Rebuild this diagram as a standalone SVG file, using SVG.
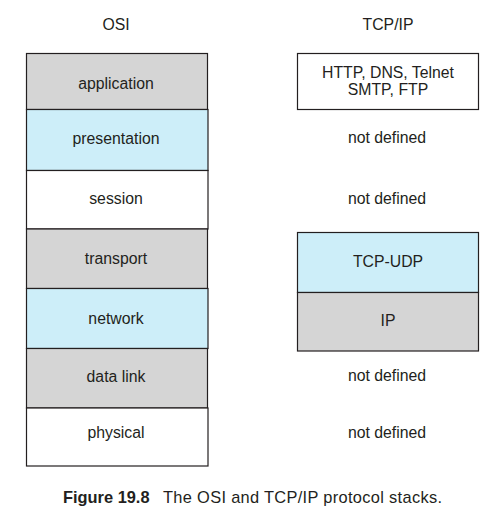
<svg xmlns="http://www.w3.org/2000/svg" width="495" height="529" viewBox="0 0 495 529">
<style>
text{font-family:"Liberation Sans",Arial,sans-serif;font-size:15.8px;fill:#231f20;text-anchor:middle}
.box{stroke:#231f20;stroke-width:1.2}
.g{fill:#d5d5d5}
.b{fill:#cdeef9}
.w{fill:#ffffff}
.cap{text-anchor:start;font-size:16.4px}
</style>
<rect width="495" height="529" fill="#ffffff"/>
<text x="116" y="30">OSI</text>
<text x="388" y="30">TCP/IP</text>
<g id="osi-application"><rect class="box g" x="26.5" y="53.5" width="181" height="56"/><text x="116" y="89">application</text></g>
<g id="osi-presentation"><rect class="box b" x="26.5" y="109.5" width="181.5" height="61"/><text x="116" y="144">presentation</text></g>
<g id="osi-session"><rect class="box w" x="26.5" y="170.5" width="181.5" height="58.5"/><text x="116" y="204">session</text></g>
<g id="osi-transport"><rect class="box g" x="26.5" y="229" width="181" height="59.5"/><text x="116" y="264">transport</text></g>
<g id="osi-network"><rect class="box b" x="26.5" y="288.5" width="181.5" height="60"/><text x="116" y="324">network</text></g>
<g id="osi-datalink"><rect class="box g" x="26.5" y="348.5" width="181" height="59.5"/><text x="116" y="381.5">data link</text></g>
<g id="osi-physical"><rect class="box w" x="26.5" y="408" width="181.5" height="58"/><text x="116" y="438">physical</text></g>
<g id="tcp-application"><rect class="box w" x="297.5" y="53.5" width="181" height="56"/><text x="388" y="77.5">HTTP, DNS, Telnet</text><text x="388" y="95">SMTP, FTP</text></g>
<g id="tcp-nd1"><text x="387" y="143">not defined</text></g>
<g id="tcp-nd2"><text x="387" y="203.5">not defined</text></g>
<g id="tcp-tcpudp"><rect class="box b" x="297.5" y="232.5" width="181" height="60"/><text x="388" y="267">TCP-UDP</text></g>
<g id="tcp-ip"><rect class="box g" x="297.5" y="292.5" width="181" height="58.5"/><text x="388" y="326">IP</text></g>
<g id="tcp-nd3"><text x="387" y="380.5">not defined</text></g>
<g id="tcp-nd4"><text x="387" y="437.5">not defined</text></g>
<g id="connectors"></g>
<text class="cap" x="63" y="503"><tspan font-weight="bold">Figure 19.8</tspan><tspan x="163" textLength="279" lengthAdjust="spacing">The OSI and TCP/IP protocol stacks.</tspan></text>
</svg>
